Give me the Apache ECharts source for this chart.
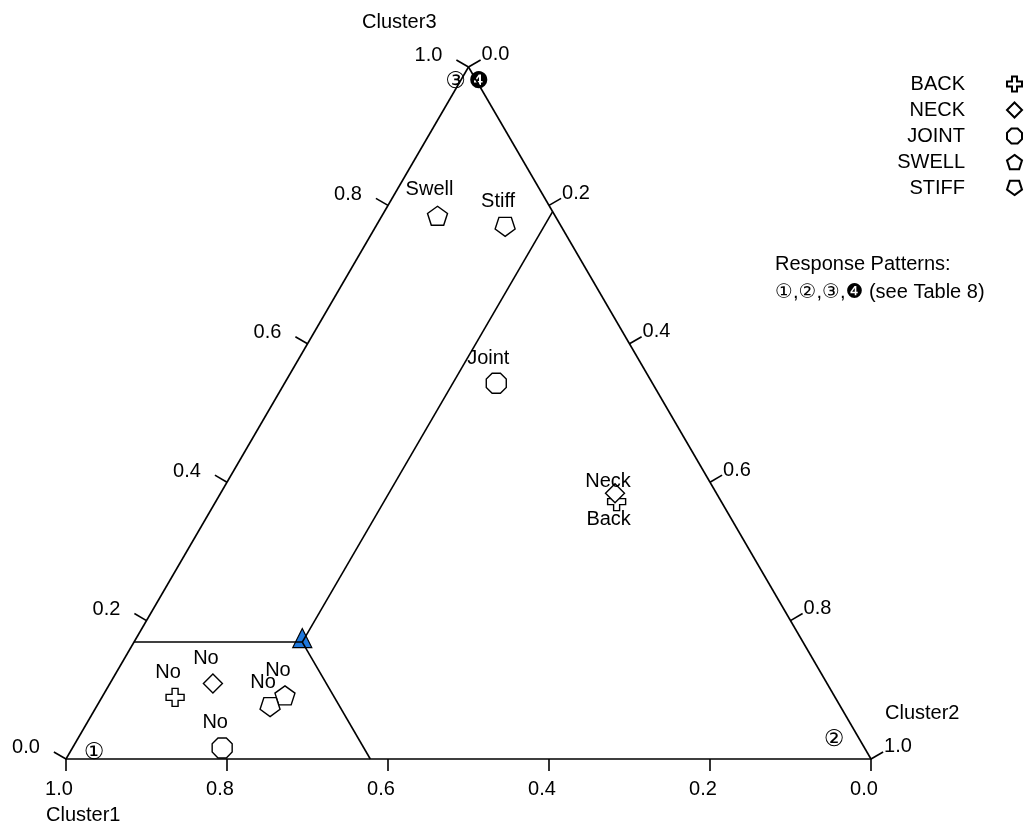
<!DOCTYPE html>
<html><head><meta charset="utf-8">
<script src="https://cdn.jsdelivr.net/npm/echarts@6/dist/echarts.min.js"></script>
<style>html,body{margin:0;padding:0;background:#fff}#chart{width:1034px;height:830px}</style>
</head><body><div id="chart"></div>
<script>
// ---- data (compositions are [Cluster1, Cluster2, Cluster3]) ----
const categories = ['BACK', 'NECK', 'JOINT', 'SWELL', 'STIFF'];
const yesValues = [[0.130, 0.498, 0.372], [0.126, 0.490, 0.384], [0.194, 0.263, 0.543], [0.146, 0.069, 0.785], [0.070, 0.161, 0.769]];
const noValues  = [[0.820, 0.091, 0.089], [0.763, 0.128, 0.109], [0.798, 0.186, 0.016], [0.682, 0.226, 0.092], [0.709, 0.216, 0.075]];
const yesLabels = ['Back', 'Neck', 'Joint', 'Swell', 'Stiff'];
const noLabels  = ['No', 'No', 'No', 'No', 'No'];
const boundaryPoint = [0.622, 0.209, 0.169];
const tickValues = [0, 0.2, 0.4, 0.6, 0.8, 1.0];
const tickLabels = ['0.0', '0.2', '0.4', '0.6', '0.8', '1.0'];
const axisNames = ['Cluster1', 'Cluster2', 'Cluster3'];
const patternLabels = ['①', '②', '③', '❹'];
const notes = ['Response Patterns:', '①,②,③,❹ (see Table 8)'];

// ---- styling ----
const FONT = '"Liberation Sans", Arial, "DejaVu Sans", sans-serif';
const FS = 20;
const SYM = {
  BACK: 'path://M-1,-3H1V-1H3V1H1V3H-1V1H-3V-1H-1Z',
  NECK: 'path://M0,-1L1,0L0,1L-1,0Z',
  JOINT: 'path://M-0.383,-0.924L0.383,-0.924L0.924,-0.383L0.924,0.383L0.383,0.924L-0.383,0.924L-0.924,0.383L-0.924,-0.383Z',
  SWELL: 'path://M0,-1L0.951,-0.309L0.588,0.809L-0.588,0.809L-0.951,-0.309Z',
  STIFF: 'path://M0,1L0.951,0.309L0.588,-0.809L-0.588,-0.809L-0.951,0.309Z'
};
const SIZE = { BACK: 18, NECK: 19, JOINT: 20, SWELL: [20, 19], STIFF: [20, 19] };
const YES_OFF = [[-8, 18], [-7, -12], [-8, -25], [-8, -26], [-7, -25]];
const NO_OFF = [-7, -25];

// ternary -> cartesian values (x axis is inverted; x value = c1 + c3/2, y = c3)
function tern(c) { return [c[0] + c[2] / 2, c[2]]; }

const chart = echarts.init(document.getElementById('chart'), null, { renderer: 'canvas' });

function frameRender(params, api) {
  const P = c => api.coord(tern(c));
  const kids = [];
  const ls = { stroke: '#000', lineWidth: 1.6 };
  const line = (a, b) => kids.push({ type: 'line', shape: { x1: a[0], y1: a[1], x2: b[0], y2: b[1] }, style: ls });
  const text = (x, y, t, align, font) => kids.push({ type: 'text', x: x, y: y, style: { text: t, fill: '#000', font: font || (FS + 'px ' + FONT), align: align, verticalAlign: 'middle' } });
  const V1 = P([1, 0, 0]), V2 = P([0, 1, 0]), V3 = P([0, 0, 1]);
  line(V1, V3); line(V3, V2);
  const b = boundaryPoint, B = P(b);
  line(B, P([1 - b[2], 0, b[2]]));
  line(B, P([0, b[1], 1 - b[1]]));
  line(B, P([b[0], 1 - b[0], 0]));
  const TL = 14;
  function edgeTicks(A, C, pointAt, lab) {
    const dx = C[0] - A[0], dy = C[1] - A[1], L = Math.hypot(dx, dy);
    const nx = dy / L, ny = -dx / L;
    tickValues.forEach((t, i) => {
      const p = P(pointAt(t));
      const e = [p[0] + nx * TL, p[1] + ny * TL];
      line(p, e);
      lab(e, tickLabels[i]);
    });
  }
  edgeTicks(V1, V3, t => [1 - t, 0, t], (e, s) => text(e[0] - 14, e[1] - 4, s, 'right'));
  edgeTicks(V3, V2, t => [0, t, 1 - t], (e, s) => text(e[0] + 1, e[1] - 5, s, 'left'));
  text(V1[0] - 20, V1[1] + 56, axisNames[0], 'left');
  text(V2[0] + 14, V2[1] - 46, axisNames[1], 'left');
  text(V3[0] - 32, V3[1] - 45, axisNames[2], 'right');
  const PF = '23px "DejaVu Sans", sans-serif';
  text(V1[0] + 28, V1[1] - 6, patternLabels[0], 'center', PF);
  text(V2[0] - 37, V2[1] - 19, patternLabels[1], 'center', PF);
  text(V3[0] - 13, V3[1] + 15, patternLabels[2], 'center', PF);
  text(V3[0] + 10, V3[1] + 15, patternLabels[3], 'center', PF);
  return { type: 'group', children: kids };
}

const series = [
  {
    type: 'scatter', name: 'boundary', z: 2, silent: true,
    symbol: 'triangle', symbolSize: [19, 19], symbolOffset: [0, -4],
    itemStyle: { color: '#1f78dc', borderColor: '#000', borderWidth: 1.2, opacity: 1 },
    data: [tern(boundaryPoint)]
  },
  {
    type: 'custom', name: 'frame', z: 3, silent: true, coordinateSystem: 'cartesian2d',
    data: [[0, 0]], renderItem: frameRender
  }
].concat(categories.map((c, i) => ({
  type: 'scatter', name: c, z: 5, silent: true,
  symbol: SYM[c], symbolSize: SIZE[c],
  itemStyle: { color: '#fff', borderColor: '#000', borderWidth: 1.4, opacity: 1 },
  label: { show: true, position: 'inside', color: '#000', fontSize: FS, fontFamily: FONT, formatter: p => p.data.name },
  data: [
    { value: tern(yesValues[i]), name: yesLabels[i], label: { offset: YES_OFF[i] } },
    { value: tern(noValues[i]), name: noLabels[i], label: { offset: NO_OFF } }
  ]
})));

chart.setOption({
  animation: false,
  backgroundColor: '#fff',
  grid: { left: 66, top: 67, width: 805, height: 692 },
  xAxis: {
    type: 'value', min: 0, max: 1, interval: 0.2, inverse: true,
    axisLine: { show: true, lineStyle: { color: '#000', width: 1.6 } },
    axisTick: { show: true, length: 12, lineStyle: { color: '#000', width: 1.6 } },
    splitLine: { show: false },
    axisLabel: { color: '#000', fontSize: FS, fontFamily: FONT, margin: 20, padding: [0, 14, 0, 0], formatter: v => v.toFixed(1) }
  },
  yAxis: { type: 'value', min: 0, max: 1, show: false },
  legend: {
    data: categories.map(c => ({ name: c, icon: SYM[c] })),
    orient: 'vertical', right: 6, top: 69, align: 'right',
    itemWidth: 15, itemHeight: 15, itemGap: 6, selectedMode: false,
    textStyle: { color: '#000', fontSize: FS, fontFamily: FONT, padding: [0, 37, 0, 0] }
  },
  graphic: [
    { type: 'text', left: 775, top: 254, style: { text: notes[0], fill: '#000', font: FS + 'px ' + FONT } },
    { type: 'text', left: 775, top: 282, style: { text: notes[1], fill: '#000', font: FS + 'px ' + FONT } }
  ],
  series: series
});
</script></body></html>
